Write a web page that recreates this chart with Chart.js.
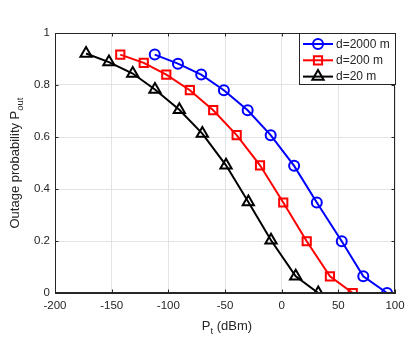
<!DOCTYPE html>
<html>
<head>
  <title>Outage probability vs transmit power</title>
  <script src="https://cdn.jsdelivr.net/npm/chart.js@4.4.0/dist/chart.umd.min.js"></script>
  <style>
    body { margin: 0; background: #fff; }
    canvas { display: block; }
  </style>
</head>
<body>
  <canvas id="outageChart" width="416" height="344"></canvas>

  <script>
    // values: transmit power (dBm) and outage probability
    const seriesNames = ['d=2000 m', 'd=200 m', 'd=20 m'];
    const power2000 = [-112, -91.5, -71, -51, -30, -9.7, 11, 31, 53, 72, 93];
    const outage2000 = [0.917, 0.882, 0.84, 0.78, 0.703, 0.607, 0.489, 0.348, 0.199, 0.064, 0];
    const power200 = [-142.4, -121.7, -101.8, -81, -60.4, -39.7, -19.1, 1.4, 22.1, 42.6, 62.7];
    const outage200 = [0.917, 0.885, 0.84, 0.78, 0.703, 0.607, 0.491, 0.348, 0.199, 0.064, 0];
    const power20 = [-172.6, -152.4, -131.4, -111.8, -90.3, -70, -49.1, -29.4, -9.4, 12.4, 32.3];
    const outage20 = [0.921, 0.888, 0.844, 0.783, 0.705, 0.613, 0.491, 0.35, 0.203, 0.064, 0];
    const xTicks = [-200, -150, -100, -50, 0, 50, 100];
    const yTicks = [0, 0.2, 0.4, 0.6, 0.8, 1];

    const FONT = '"Liberation Sans", Arial, Helvetica, sans-serif';
    const AXIS = '#262626';

    function toPoints(xs, ys) {
      return xs.map((x, i) => ({ x: x, y: ys[i] }));
    }

    function series(name, xs, ys, color, marker, radius) {
      return {
        label: name,
        data: toPoints(xs, ys),
        borderColor: color,
        borderWidth: 2,
        showLine: true,
        fill: false,
        pointStyle: marker,
        pointRadius: radius,
        pointBorderWidth: 2,
        pointBorderColor: color,
        pointBackgroundColor: 'rgba(0,0,0,0)'
      };
    }

    // box around the plot, inward ticks on all four sides, axis titles and legend
    const matlabLook = {
      id: 'matlabLook',
      afterDraw(chart) {
        const ctx = chart.ctx;
        const a = chart.chartArea;
        const xs = chart.scales.x, ys = chart.scales.y;
        ctx.save();
        ctx.strokeStyle = AXIS;
        ctx.lineWidth = 1;
        ctx.strokeRect(a.left + 0.5, a.top + 0.5, a.right - a.left - 1, a.bottom - a.top - 1);
        const tl = 3.5;
        ctx.beginPath();
        xTicks.forEach(v => {
          const px = Math.round(xs.getPixelForValue(v)) + 0.5;
          ctx.moveTo(px, a.bottom); ctx.lineTo(px, a.bottom - tl);
          ctx.moveTo(px, a.top); ctx.lineTo(px, a.top + tl);
        });
        yTicks.forEach(v => {
          const py = Math.round(ys.getPixelForValue(v)) + 0.5;
          ctx.moveTo(a.left, py); ctx.lineTo(a.left + tl, py);
          ctx.moveTo(a.right, py); ctx.lineTo(a.right - tl, py);
        });
        ctx.stroke();

        // axis titles with subscripts
        ctx.fillStyle = AXIS;
        ctx.textBaseline = 'alphabetic';
        const big = '13px ' + FONT, small = '9.5px ' + FONT;
        function subTitle(main, sub, rest) {
          ctx.font = big; const w1 = ctx.measureText(main).width;
          ctx.font = small; const w2 = ctx.measureText(sub).width;
          ctx.font = big; const w3 = ctx.measureText(rest).width;
          let x0 = -(w1 + w2 + w3) / 2;
          ctx.font = big; ctx.fillText(main, x0, 0);
          ctx.font = small; ctx.fillText(sub, x0 + w1, 4);
          ctx.font = big; ctx.fillText(rest, x0 + w1 + w2, 0);
        }
        ctx.save();
        ctx.translate((a.left + a.right) / 2 + 2, 330);
        subTitle('P', 't', ' (dBm)');
        ctx.restore();
        ctx.save();
        ctx.translate(19, (a.top + a.bottom) / 2);
        ctx.rotate(-Math.PI / 2);
        subTitle('Outage probability P', 'out', '');
        ctx.restore();

        // legend box in the upper right corner
        const lx = 299, ly = 33, lw = 97, lh = 52;
        ctx.fillStyle = '#fff';
        ctx.fillRect(lx, ly, lw, lh);
        ctx.strokeStyle = AXIS;
        ctx.lineWidth = 1;
        ctx.strokeRect(lx + 0.5, ly + 0.5, lw - 1, lh - 1);
        ctx.font = '12px ' + FONT;
        ctx.textBaseline = 'middle';
        chart.data.datasets.forEach((ds, i) => {
          const cy = ly + 11 + i * 16.3;
          ctx.strokeStyle = ds.borderColor;
          ctx.lineWidth = 2;
          ctx.beginPath();
          ctx.moveTo(lx + 4, cy); ctx.lineTo(lx + 34, cy);
          ctx.stroke();
          ctx.fillStyle = 'rgba(0,0,0,0)';
          Chart.helpers.drawPoint(ctx, {
            pointStyle: ds.pointStyle, radius: ds.pointRadius, borderWidth: 2, rotation: 0
          }, lx + 19, cy);
          ctx.fillStyle = AXIS;
          ctx.fillText(ds.label, lx + 37, cy + 0.5);
        });
        ctx.restore();
      }
    };

    const ctx = document.getElementById('outageChart').getContext('2d');
    const outageChart = new Chart(ctx, {
      type: 'scatter',
      data: {
        datasets: [
          series(seriesNames[0], power2000, outage2000, '#0000ff', 'circle', 5),
          series(seriesNames[1], power200, outage200, '#ff0000', 'rect', 5.8),
          series(seriesNames[2], power20, outage20, '#000000', 'triangle', 6.5)
        ]
      },
      options: {
        responsive: false,
        animation: false,
        layout: { padding: { top: 33, right: 21, left: 0, bottom: 0 } },
        plugins: { legend: { display: false }, tooltip: { enabled: false } },
        scales: {
          x: {
            type: 'linear',
            min: -200, max: 100,
            afterFit: s => { s.height = 51; },
            afterBuildTicks: s => { s.ticks = xTicks.map(v => ({ value: v })); },
            grid: { color: '#e3e3e3', lineWidth: 1, drawTicks: false },
            border: { display: true, color: AXIS, width: 1 },
            ticks: {
              color: AXIS, padding: 6,
              font: { family: FONT, size: 11.5 },
              maxRotation: 0,
              callback: v => String(v)
            }
          },
          y: {
            min: 0, max: 1,
            afterFit: s => { s.width = 55; },
            afterBuildTicks: s => { s.ticks = yTicks.map(v => ({ value: v })); },
            grid: { color: '#e3e3e3', lineWidth: 1, drawTicks: false },
            border: { display: true, color: AXIS, width: 1 },
            ticks: {
              color: AXIS, padding: 5,
              font: { family: FONT, size: 11.5 },
              callback: v => String(Math.round(v * 10) / 10)
            }
          }
        }
      },
      plugins: [matlabLook]
    });
  </script>
</body>
</html>
